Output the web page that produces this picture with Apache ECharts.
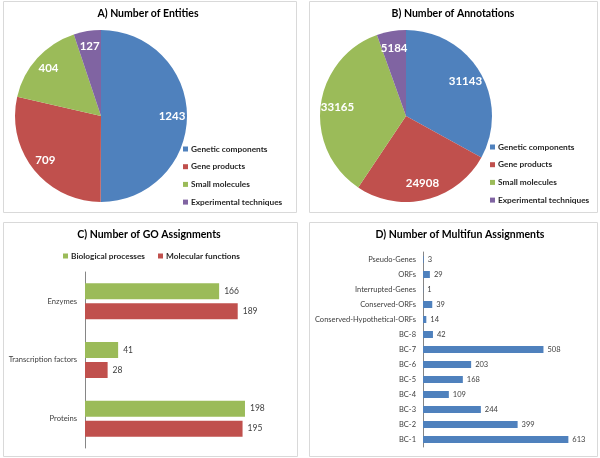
<!DOCTYPE html>
<html><head><meta charset="utf-8">
<script src="https://cdn.jsdelivr.net/npm/echarts@6/dist/echarts.min.js"></script>
<style>html,body{margin:0;padding:0;background:#fff}#c{width:600px;height:458px}</style>
</head><body><div id="c"></div>
<script>
const pieCategories = ['Genetic components','Gene products','Small molecules','Experimental techniques'];
const entityValues = [1243, 709, 404, 127];
const annotationValues = [31143, 24908, 33165, 5184];
const goCategories = ['Enzymes','Transcription factors','Proteins'];
const goSeriesNames = ['Biological processes','Molecular functions'];
const goBiological = [166, 41, 198];
const goMolecular = [189, 28, 195];
const multifunCategories = ['Pseudo-Genes','ORFs','Interrupted-Genes','Conserved-ORFs','Conserved-Hypothetical-ORFs','BC-8','BC-7','BC-6','BC-5','BC-4','BC-3','BC-2','BC-1'];
const multifunValues = [3, 29, 1, 39, 14, 42, 508, 203, 168, 109, 244, 399, 613];
const panelTitles = ['A) Number of Entities','B) Number of Annotations','C) Number of GO Assignments','D) Number of Multifun Assignments'];

const FONT = 'Lato, "Open Sans", sans-serif';
const palette = ['#4F81BD','#C0504D','#9BBB59','#8064A2'];
const chart = echarts.init(document.getElementById('c'), null, {renderer:'canvas'});

function pieData(vals){ return pieCategories.map((n,i)=>({name:n, value:vals[i]})); }
function titleAt(text, x, y){
  return {text, left:x, top:y, textAlign:'center', padding:0,
    textStyle:{fontFamily:FONT, fontSize:10.5, fontWeight:'bold', color:'#000'}};
}
const legendText = {fontFamily:FONT, fontSize:8.3, fontWeight:'bold', color:'#262626', lineHeight:12, padding:[0,0,0,-2]};
function pieLegend(x, y){
  return {orient:'vertical', left:x, top:y, padding:0, data:pieCategories, icon:'rect',
    itemWidth:5, itemHeight:5, itemGap:5.7, selectedMode:false, textStyle:legendText};
}
function pieSeries(name, vals, cx, inner){
  return [{
    type:'pie', name, center:[cx,116], radius:86, startAngle:90, clockwise:true,
    data:pieData(vals), label:{show:false}, labelLine:{show:false}, silent:true,
    itemStyle:{borderWidth:0}, emphasis:{disabled:true}
  },{
    type:'pie', name:name+' labels', center:[cx,116], radius:[inner,86], startAngle:90, clockwise:true,
    data:pieData(vals), silent:true, emphasis:{disabled:true}, legendHoverLink:false,
    itemStyle:{color:'rgba(0,0,0,0)'},
    label:{show:true, position:'inside', formatter:'{c}', color:'#fff', fontFamily:FONT, fontSize:11.5, fontWeight:'bold'},
    labelLine:{show:false}
  }];
}
const border = {stroke:'#D9D9D9', lineWidth:1, fill:'none'};

chart.setOption({
  animation:false,
  color:palette,
  title:[titleAt(panelTitles[0],148,8), titleAt(panelTitles[1],453,8), titleAt(panelTitles[2],149,229), titleAt(panelTitles[3],460,229)],
  legend:[
    pieLegend(183,143), pieLegend(490,141),
    {orient:'horizontal', left:63, top:250, padding:0, data:goSeriesNames, icon:'rect', itemWidth:5, itemHeight:5, itemGap:13, selectedMode:false,
     textStyle:legendText}
  ],
  graphic:[
    {type:'rect', shape:{x:3.5,y:1.5,width:293,height:211}, style:border, silent:true},
    {type:'rect', shape:{x:309.5,y:1.5,width:288,height:211}, style:border, silent:true},
    {type:'rect', shape:{x:3.5,y:222.5,width:294,height:234}, style:border, silent:true},
    {type:'rect', shape:{x:309.5,y:222.5,width:288,height:234}, style:border, silent:true}
  ],
  grid:[
    {left:85, top:272, width:202, height:176},
    {left:423, top:252, width:166, height:195}
  ],
  xAxis:[
    {type:'value', gridIndex:0, min:0, max:250, show:false},
    {type:'value', gridIndex:1, min:0, max:700, show:false}
  ],
  yAxis:[
    {type:'category', gridIndex:0, data:goCategories, inverse:true,
     axisLine:{lineStyle:{color:'#868686'}}, axisTick:{show:false},
     axisLabel:{fontFamily:FONT, fontSize:7.6, color:'#404040', margin:8}},
    {type:'category', gridIndex:1, data:multifunCategories, inverse:true,
     axisLine:{lineStyle:{color:'#868686'}}, axisTick:{show:false},
     axisLabel:{fontFamily:FONT, fontSize:7.5, color:'#404040', margin:7}}
  ],
  series:[
    ...pieSeries('Entities', entityValues, 101, 50),
    ...pieSeries('Annotations', annotationValues, 406, 46),
    {type:'bar', name:goSeriesNames[0], xAxisIndex:0, yAxisIndex:0, data:goBiological, barWidth:16, barGap:'25%',
     itemStyle:{color:'#9BBB59'}, silent:true,
     label:{show:true, position:'right', distance:5, fontFamily:FONT, fontSize:8.5, color:'#404040'}},
    {type:'bar', name:goSeriesNames[1], xAxisIndex:0, yAxisIndex:0, data:goMolecular, barWidth:16, barGap:'25%',
     itemStyle:{color:'#C0504D'}, silent:true,
     label:{show:true, position:'right', distance:5, fontFamily:FONT, fontSize:8.5, color:'#404040'}},
    {type:'bar', name:'Multifun', xAxisIndex:1, yAxisIndex:1, data:multifunValues, barWidth:7,
     itemStyle:{color:'#4F81BD'}, silent:true,
     label:{show:true, position:'right', distance:4, fontFamily:FONT, fontSize:7.5, color:'#404040'}}
  ]
});
</script></body></html>
